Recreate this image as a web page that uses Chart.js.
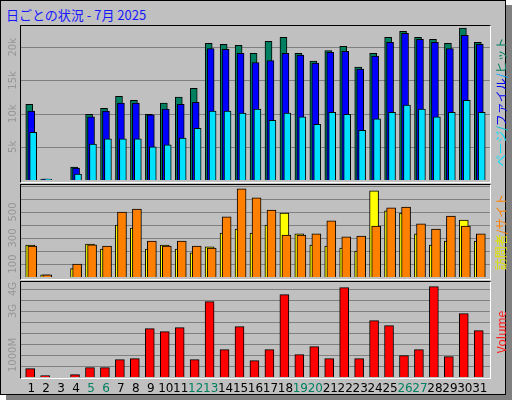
<!DOCTYPE html>
<html>
<head>
<meta charset="utf-8">
<script src="https://cdn.jsdelivr.net/npm/chart.js@4.4.0/dist/chart.umd.min.js"></script>
<style>
  html, body { margin: 0; padding: 0; background: #fff; }
  #box { position: absolute; left: 0; top: 0; width: 504px; height: 393px; background: #c0c0c0;
         border: 1px solid #000; box-shadow: 6px 5px 0 #808080; }
  canvas { position: absolute; left: 0; }
  .frame { position: absolute; left: 20px; width: 469px; border: 1px solid #fff; border-top-color: #000; border-left-color: #000; }
  #title { position: absolute; left: 6px; top: 5px; font: 13px "Noto Sans CJK JP", sans-serif; color: #1818ff; }
  .side { position: absolute; transform: translate(-50%, -50%) rotate(-90deg); white-space: nowrap;
          font: 12px "Noto Sans CJK JP", sans-serif; }
</style>
</head>
<body>
<div id="box"></div>
<div id="title">日ごとの状況 - 7月 2025</div>
<div class="frame" style="top:25px;height:156px"></div>
<div class="frame" style="top:184px;height:94px"></div>
<div class="frame" style="top:281px;height:96px"></div>
<canvas id="c1" width="512" height="158" style="top:25px"></canvas>
<canvas id="c2" width="512" height="96" style="top:184px"></canvas>
<canvas id="c3" width="512" height="119" style="top:281px"></canvas>
<div class="side" style="left:500px;top:102px"><span style="color:#00e0ff">ページ</span><span style="color:#00c0e0">/</span><span style="color:#0000ff">ファイル</span><span style="color:#00a0ff">/</span><span style="color:#008060">ヒット</span></div>
<div class="side" style="left:500px;top:232px"><span style="color:#e0e000">訪問者</span><span style="color:#ff8000">/サイト</span></div>
<div class="side" style="left:500px;top:332px"><span style="color:#ff2020">Volume</span></div>
<script>
var days = [];
for (var d = 1; d <= 31; d++) days.push(d);
var weekendDays = [5, 6, 12, 13, 19, 20, 26, 27];

var hits  = [11400, 150, 0, 1950, 9900, 10800, 12600, 12000, 9900, 11600, 12500, 13800, 20600, 20450, 20300, 19100,
             20900, 21500, 19100, 17900, 19500, 20150, 17000, 19100, 21500, 22400, 21500, 21200, 20600, 22900, 20750];
var files = [10400, 150, 0, 1800, 9500, 10400, 11600, 11600, 9800, 10700, 11400, 11700, 19800, 19700, 19100, 17700,
             18000, 19100, 18800, 17600, 19250, 19400, 16700, 18650, 20750, 22100, 21200, 20750, 19800, 21800, 20450];
var pages = [7200, 150, 0, 900, 5400, 6200, 6200, 6200, 5000, 5300, 6300, 7800, 10400, 10400, 10100, 10700,
             9000, 10100, 9500, 8400, 10200, 9900, 7500, 9200, 10200, 11300, 10700, 9500, 10200, 12000, 10200];

var visitors = [246, 17, 0, 64, 254, 215, 400, 377, 215, 246, 215, 185, 231, 338, 369, 338,
                400, 492, 331, 246, 238, 223, 200, 662, 508, 492, 331, 246, 277, 438, 277];
var sites    = [238, 17, 0, 100, 248, 238, 500, 523, 277, 238, 277, 238, 223, 462, 677, 608,
                515, 323, 323, 331, 431, 308, 315, 392, 531, 538, 408, 369, 469, 392, 331];

var volumeMB = [382, 64, 0, 109, 427, 427, 791, 836, 2200, 2064, 2245, 791, 3427, 1245, 2291, 745,
                1245, 3745, 1018, 1382, 836, 4064, 836, 2564, 2336, 973, 1245, 4109, 927, 2882, 2109];

var tick1 = [{ v: 5000, t: '5k' }, { v: 10000, t: '10k' }, { v: 15000, t: '15k' }, { v: 20000, t: '20k' }];
var tick2 = [{ v: 100, t: '100' }, { v: 300, t: '300' }, { v: 500, t: '500' }];
var tick3 = [{ v: 1000, t: '1000M' }, { v: 3000, t: '3G' }, { v: 4000, t: '4G' }];

function pts(values, shift) {
  return values.map(function(v, i) { return { x: days[i] + shift, y: v }; });
}

function bars(label, values, shift, color, width) {
  return { label: label, data: pts(values, shift), backgroundColor: color, borderColor: '#000',
           borderWidth: 1, borderSkipped: 'bottom', barThickness: width, grouped: false };
}

// gridlines, y labels and day labels, drawn from the scales
var decor = {
  id: 'decor',
  beforeDatasetsDraw: function(chart, args, o) {
    var ctx = chart.ctx, y = chart.scales.y, a = chart.chartArea;
    ctx.save();
    ctx.strokeStyle = '#808080';
    ctx.lineWidth = 1;
    for (var v = o.step; v < y.max; v += o.step) {
      var py = Math.round(y.getPixelForValue(v)) + 0.5;
      ctx.beginPath(); ctx.moveTo(21, py); ctx.lineTo(490, py); ctx.stroke();
    }
    ctx.fillStyle = '#969696';
    ctx.font = '10px "DejaVu Sans", sans-serif';
    ctx.textAlign = 'center';
    ctx.textBaseline = 'middle';
    o.ticks.forEach(function(t) {
      ctx.save();
      ctx.translate(13, y.getPixelForValue(t.v));
      ctx.rotate(-Math.PI / 2);
      ctx.fillText(t.t, 0, 0);
      ctx.restore();
    });
    if (o.days) {
      ctx.font = '12px "DejaVu Sans", sans-serif';
      days.forEach(function(dd) {
        ctx.fillStyle = weekendDays.indexOf(dd) >= 0 ? '#008060' : '#000';
        ctx.fillText(String(dd), chart.scales.x.getPixelForValue(dd), a.bottom + 12);
      });
    }
    ctx.restore();
  }
};

function make(id, datasets, ymax, padBottom, step, ticks, showDays) {
  return new Chart(document.getElementById(id), {
    type: 'bar',
    data: { datasets: datasets },
    options: {
      responsive: false, animation: false,
      layout: { padding: { left: 20, right: 21, top: 0, bottom: padBottom } },
      plugins: { legend: { display: false }, tooltip: { enabled: false },
                 decor: { step: step, ticks: ticks, days: showDays } },
      scales: {
        x: { type: 'linear', display: false, offset: false, min: 0.25, max: 31.75 },
        y: { display: false, min: 0, max: ymax }
      }
    },
    plugins: [decor]
  });
}

make('c1', [
  Object.assign(bars('ページ', pages, 0.13, '#00e0ff', 7), { order: 1 }),
  Object.assign(bars('ファイル', files, 0, '#0000ff', 7), { order: 2 }),
  Object.assign(bars('ヒット', hits, -0.13, '#008060', 7), { order: 3 })
], 23350, 3, 5000, tick1, false);

make('c2', [
  Object.assign(bars('サイト', sites, 0.07, '#ff8000', 9), { order: 1 }),
  Object.assign(bars('訪問者', visitors, -0.07, '#ffff00', 9), { order: 2 })
], 715, 3, 100, tick2, false);

make('c3', [
  bars('Volume', volumeMB, -0.07, '#ff0000', 9)
], 4364, 23, 500, tick3, true);
</script>
</body>
</html>
